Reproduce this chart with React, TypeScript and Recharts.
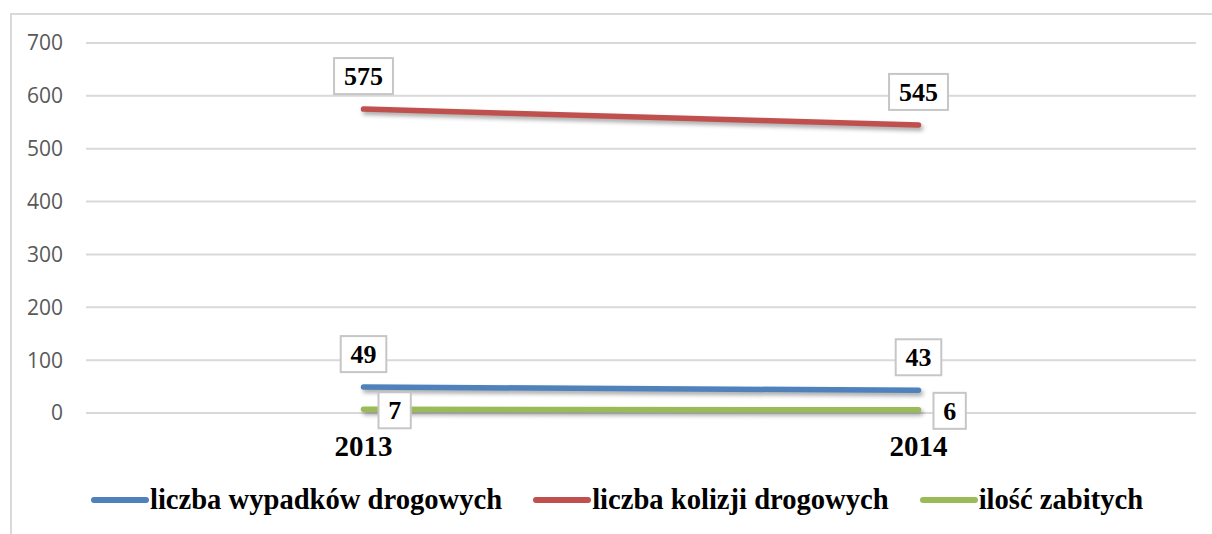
import React from 'react';
import { LineChart, Line, XAxis, YAxis, CartesianGrid, Legend, LabelList } from 'recharts';

const categories = ['2013', '2014'];
const wypadki = [49, 43];
const kolizje = [575, 545];
const zabici = [7, 6];
const yTicks = [0, 100, 200, 300, 400, 500, 600, 700];

const seriesNames = {
  wypadki: 'liczba wypadków drogowych',
  kolizje: 'liczba kolizji drogowych',
  zabici: 'ilość zabitych',
};
const colors = { wypadki: '#4F81BD', kolizje: '#C0504D', zabici: '#9BBB59' };

const data = categories.map((c, i) => ({
  year: c,
  wypadki: wypadki[i],
  kolizje: kolizje[i],
  zabici: zabici[i],
}));

const SERIF = '"Liberation Serif", "Times New Roman", serif';

const makeBoxLabel = (pos: 'top' | 'right') => (props: any) => {
  const { x, y, value } = props;
  if (x == null || y == null) return null;
  const s = String(value);
  const w = s.length * 13.3 + 19;
  const h = 36;
  let cx = x;
  let cy = y - 33;
  if (pos === 'right') {
    cx = x + 15 + w / 2;
    cy = y + 1;
  }
  return (
    <g>
      <rect x={cx - w / 2} y={cy - h / 2} width={w} height={h} fill="#ffffff" stroke="#c6c6c6" strokeWidth={2} />
      <text x={cx} y={cy + 8.8} textAnchor="middle" fontFamily={SERIF} fontWeight="bold" fontSize={26} fill="#000">
        {s}
      </text>
    </g>
  );
};

const legendKeys: Array<keyof typeof seriesNames> = ['wypadki', 'kolizje', 'zabici'];

const LegendContent = () => (
  <div
    style={{
      width: 1212,
      height: 40,
      display: 'flex',
      justifyContent: 'center',
      alignItems: 'center',
      paddingLeft: 22,
      boxSizing: 'border-box',
    }}
  >
    {legendKeys.map((k, i) => (
      <div key={k} style={{ display: 'flex', alignItems: 'center', marginLeft: i === 0 ? 0 : 31 }}>
        <svg width={58} height={10} style={{ marginRight: 1 }}>
          <line x1={3} y1={5} x2={55} y2={5} stroke={colors[k]} strokeWidth={6} strokeLinecap="round" />
        </svg>
        <span style={{ fontFamily: SERIF, fontWeight: 'bold', fontSize: 28.6, color: '#000', lineHeight: '40px' }}>
          {seriesNames[k]}
        </span>
      </div>
    ))}
  </div>
);

const lineStyle = { filter: 'drop-shadow(2px 3px 2px rgba(0,0,0,0.35))' };

export default function App() {
  return (
    <div style={{ position: 'absolute', left: 0, top: 0, width: 1212, height: 534, overflow: 'hidden', background: '#fff' }}>
      <div
        style={{
          position: 'absolute',
          left: 10,
          top: 13,
          width: 1240,
          height: 560,
          border: '2px solid #d9d9d9',
          boxSizing: 'border-box',
        }}
      />
      <div style={{ position: 'absolute', left: 0, top: 0 }}>
        <LineChart width={1212} height={534} data={data} margin={{ top: 43, right: 16, left: 0, bottom: 14 }}>
          <CartesianGrid horizontal vertical={false} stroke="#d9d9d9" strokeWidth={2} />
          <XAxis
            dataKey="year"
            scale="band"
            axisLine={false}
            tickLine={false}
            tickSize={0}
            tickMargin={22}
            height={67}
            interval={0}
            tick={{ fontFamily: SERIF, fontWeight: 'bold', fontSize: 29, fill: '#000' }}
          />
          <YAxis
            domain={[0, 700]}
            ticks={yTicks}
            width={86}
            axisLine={false}
            tickLine={false}
            tickSize={0}
            tickMargin={23}
            tick={{ fontFamily: '"Open Sans", sans-serif', fontSize: 21, fill: '#595959' }}
          />
          <Legend verticalAlign="bottom" content={<LegendContent />} wrapperStyle={{ left: 0, width: 1212, bottom: 14 }} />
          <Line dataKey="wypadki" name={seriesNames.wypadki} stroke={colors.wypadki} strokeWidth={5.5} strokeLinecap="round" dot={false} activeDot={false} isAnimationActive={false} style={lineStyle}>
            <LabelList dataKey="wypadki" content={makeBoxLabel('top')} />
          </Line>
          <Line dataKey="kolizje" name={seriesNames.kolizje} stroke={colors.kolizje} strokeWidth={5.5} strokeLinecap="round" dot={false} activeDot={false} isAnimationActive={false} style={lineStyle}>
            <LabelList dataKey="kolizje" content={makeBoxLabel('top')} />
          </Line>
          <Line dataKey="zabici" name={seriesNames.zabici} stroke={colors.zabici} strokeWidth={5.5} strokeLinecap="round" dot={false} activeDot={false} isAnimationActive={false} style={lineStyle}>
            <LabelList dataKey="zabici" content={makeBoxLabel('right')} />
          </Line>
        </LineChart>
      </div>
    </div>
  );
}
